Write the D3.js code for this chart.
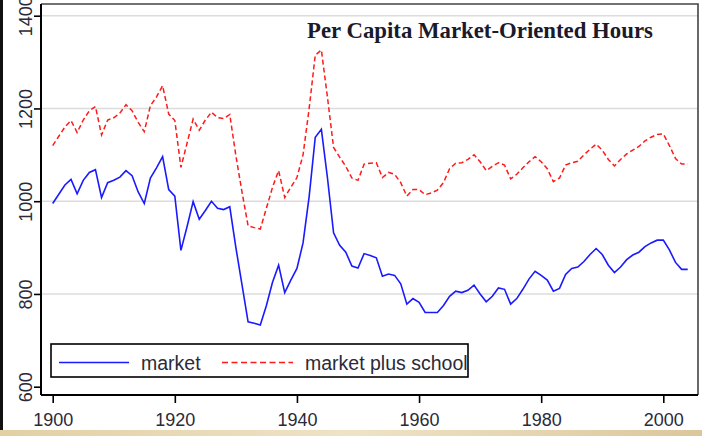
<!DOCTYPE html>
<html><head><meta charset="utf-8">
<script src="https://cdn.jsdelivr.net/npm/d3@7"></script>
<style>html,body{margin:0;padding:0;background:#fff;}svg{display:block;}</style>
</head><body>
<script>
const years = d3.range(1900, 2005);
const market = [995,1015,1035,1047,1016,1045,1062,1068,1008,1040,
 1045,1052,1066,1055,1020,995,1050,1072,1096,1025,
 1011,894,945,999,961,980,1000,985,982,988,
 900,820,740,737,733,775,825,862,803,830,
 855,910,1010,1138,1155,1050,932,905,890,860,
 856,887,883,878,838,843,840,822,778,790,
 782,760,760,760,775,795,806,803,808,819,
 800,783,795,813,810,778,790,810,832,849,
 840,830,806,812,842,855,858,870,885,898,
 885,862,846,858,874,884,890,902,910,916,
 916,895,868,853,853];
const marketSchool = [1120,1140,1160,1174,1148,1175,1195,1204,1143,1175,
 1180,1190,1208,1195,1170,1150,1206,1225,1249,1188,
 1174,1073,1125,1177,1153,1175,1192,1180,1178,1187,
 1098,1020,947,943,940,985,1030,1066,1008,1030,
 1051,1100,1200,1315,1326,1224,1116,1095,1075,1050,
 1045,1080,1082,1083,1051,1062,1058,1040,1011,1025,
 1025,1014,1018,1024,1040,1070,1082,1083,1090,1100,
 1085,1066,1075,1083,1078,1048,1058,1072,1085,1096,
 1085,1070,1042,1050,1078,1083,1086,1100,1112,1123,
 1110,1090,1076,1090,1102,1110,1118,1130,1138,1144,
 1145,1120,1092,1080,1080];
const xTicks = [1900,1920,1940,1960,1980,2000];
const yTicks = [600,800,1000,1200,1400];
const gridTicks = [800,1000,1200,1400];
const seriesNames = ["market","market plus school"];
const title = "Per Capita Market-Oriented Hours";

const W = 702, H = 436;
const svg = d3.select("body").append("svg").attr("width", W).attr("height", H);

// decorative edges
const grad = svg.append("defs").append("linearGradient").attr("id","tan").attr("x1","0").attr("x2","1");
grad.append("stop").attr("offset","0").attr("stop-color","#e2cfa4");
grad.append("stop").attr("offset","0.5").attr("stop-color","#efe3c6");
grad.append("stop").attr("offset","1").attr("stop-color","#dcc79c");
svg.append("rect").attr("x",0).attr("y",430).attr("width",W).attr("height",6).attr("fill","url(#tan)");
svg.append("rect").attr("x",0).attr("y",0).attr("width",3).attr("height",430).attr("fill","#111");

const L = 41, R = 698, T = 4, B = 395;
const x = d3.scaleLinear().domain([1900, 2000]).range([52.7, 663.3]);
const y = d3.scaleLinear().domain([600, 1400]).range([386.7, 15.7]);

// grid
svg.append("g").selectAll("line").data(gridTicks).join("line")
  .attr("x1", L).attr("x2", R).attr("y1", d => y(d)).attr("y2", d => y(d))
  .attr("stroke", "#dcdcdc").attr("stroke-width", 1.5);

// frame
svg.append("path").attr("d", `M${L},${T}H${R}V${B}`).attr("fill","none").attr("stroke","#444").attr("stroke-width",1.6);

// axes
const xAxis = d3.axisBottom(x).tickValues(xTicks).tickFormat(d3.format("d")).tickSize(8).tickPadding(8).tickSizeOuter(0);
const gx = svg.append("g").attr("transform", `translate(0,${B})`).call(xAxis);
gx.select(".domain").remove();
gx.append("line").attr("x1", L).attr("x2", R).attr("stroke", "#000").attr("stroke-width", 2);
gx.selectAll(".tick line").attr("stroke","#000").attr("stroke-width",1.6);
gx.selectAll(".tick text").attr("fill","#2a2a3a").attr("font-family","Liberation Sans, Arial, sans-serif").attr("font-size",18)
  .attr("y", 18).attr("dy","0.71em");

const yAxis = d3.axisLeft(y).tickValues(yTicks).tickFormat(d3.format("d")).tickSize(7).tickSizeOuter(0);
const gy = svg.append("g").attr("transform", `translate(${L},0)`).call(yAxis);
gy.select(".domain").remove();
gy.append("line").attr("y1", T).attr("y2", B).attr("stroke", "#000").attr("stroke-width", 2);
gy.selectAll(".tick line").attr("stroke","#000").attr("stroke-width",1.6);
gy.selectAll(".tick text").attr("fill","#2a2a3a").attr("font-family","Liberation Sans, Arial, sans-serif").attr("font-size",18)
  .attr("x", null).attr("dy", null)
  .attr("text-anchor","middle")
  .attr("transform","translate(-15,0) rotate(-90)")
  .attr("dy","0.35em");

// lines
const lineGen = vals => d3.line().x((d,i) => x(years[i])).y(d => y(d))(vals);
svg.append("path").attr("d", lineGen(marketSchool)).attr("fill","none")
  .attr("stroke","#ff1a1a").attr("stroke-width",1.5).attr("stroke-dasharray","5,3");
svg.append("path").attr("d", lineGen(market)).attr("fill","none")
  .attr("stroke","#1a1aff").attr("stroke-width",1.6);

// title
svg.append("text").attr("x", 307).attr("y", 37.5).text(title)
  .attr("font-family","Liberation Serif, Times New Roman, serif").attr("font-weight","bold")
  .attr("font-size",22.8).attr("fill","#1a1a2a");

// legend
const lg = svg.append("g");
lg.append("rect").attr("x",51).attr("y",344).attr("width",417).attr("height",33)
  .attr("fill","#fff").attr("stroke","#000").attr("stroke-width",1.6);
lg.append("line").attr("x1",59).attr("x2",129).attr("y1",362.5).attr("y2",362.5)
  .attr("stroke","#1a1aff").attr("stroke-width",1.6);
lg.append("text").attr("x",141).attr("y",369.5).text(seriesNames[0])
  .attr("font-family","Liberation Sans, Arial, sans-serif").attr("font-size",19.5).attr("fill","#2a2a3a");
lg.append("line").attr("x1",222).attr("x2",293).attr("y1",362.5).attr("y2",362.5)
  .attr("stroke","#ff1a1a").attr("stroke-width",1.6).attr("stroke-dasharray","6,3.5");
lg.append("text").attr("x",305).attr("y",369.5).text(seriesNames[1])
  .attr("font-family","Liberation Sans, Arial, sans-serif").attr("font-size",19.5).attr("fill","#2a2a3a");
</script>
</body></html>
